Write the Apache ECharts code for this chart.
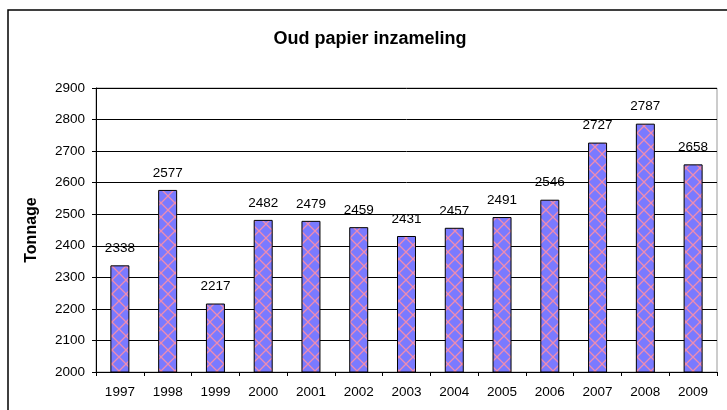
<!DOCTYPE html>
<html>
<head>
<meta charset="utf-8">
<script src="https://cdn.jsdelivr.net/npm/echarts@6/dist/echarts.min.js"></script>
<style>
  html, body { margin: 0; padding: 0; background: #fff; }
  #chart-container { width: 727px; height: 410px; }
</style>
</head>
<body>
<div id="chart-container"></div>
<script>
var myChart = echarts.init(document.getElementById('chart-container'));

const years = ['1997', '1998', '1999', '2000', '2001', '2002', '2003', '2004', '2005', '2006', '2007', '2008', '2009'];
const tonnage = [2338, 2577, 2217, 2482, 2479, 2459, 2431, 2457, 2491, 2546, 2727, 2787, 2658];

// crosshatch fill like the old spreadsheet pattern
const tile = document.createElement('canvas');
tile.width = 14; tile.height = 14;
const ctx = tile.getContext('2d');
ctx.fillStyle = '#7a7aff';
ctx.fillRect(0, 0, 14, 14);
ctx.strokeStyle = '#ef8cb0';
ctx.lineWidth = 1.3;
ctx.beginPath();
ctx.moveTo(0, 0); ctx.lineTo(14, 14);
ctx.moveTo(14, 0); ctx.lineTo(0, 14);
ctx.stroke();

const option = {
    animation: false,
    textStyle: { fontFamily: 'Liberation Sans, Arial, sans-serif' },
    title: {
        text: 'Oud papier inzameling',
        left: 365, top: 25, textAlign: 'center',
        textStyle: { fontSize: 18, fontWeight: 'bold', color: '#000' }
    },
    graphic: [{
        type: 'rect',
        shape: { x: 8, y: 10, width: 740, height: 420 },
        style: { fill: 'none', stroke: '#000', lineWidth: 1.5 },
        silent: true
    }],
    grid: {
        left: 96, right: 10, top: 88, bottom: 38,
        show: true, borderColor: '#999', borderWidth: 1
    },
    xAxis: {
        type: 'category',
        data: years,
        axisLine: { lineStyle: { color: '#000' } },
        axisTick: { show: true, length: 4, lineStyle: { color: '#000' } },
        axisLabel: { color: '#000', fontSize: 13.5, margin: 13 }
    },
    yAxis: {
        type: 'value',
        min: 2000, max: 2900, interval: 100,
        name: 'Tonnage',
        nameLocation: 'middle',
        nameGap: 56,
        nameTextStyle: { fontSize: 16, fontWeight: 'bold', color: '#000' },
        axisLine: { show: true, lineStyle: { color: '#000' } },
        axisTick: { show: true, length: 4, lineStyle: { color: '#000' } },
        axisLabel: { color: '#000', fontSize: 13.5, margin: 11, formatter: function(v) { return String(v); } },
        splitLine: { lineStyle: { color: '#000', width: 1 } }
    },
    series: [{
        type: 'bar',
        data: tonnage,
        barWidth: 19,
        itemStyle: {
            color: { image: tile, repeat: 'repeat' },
            borderColor: '#000',
            borderWidth: 1
        },
        label: {
            show: true, position: 'top', distance: 10,
            color: '#000', fontSize: 13.5
        }
    }]
};

myChart.setOption(option);

window.addEventListener('resize', function() {
    myChart.resize();
});
</script>
</body>
</html>
